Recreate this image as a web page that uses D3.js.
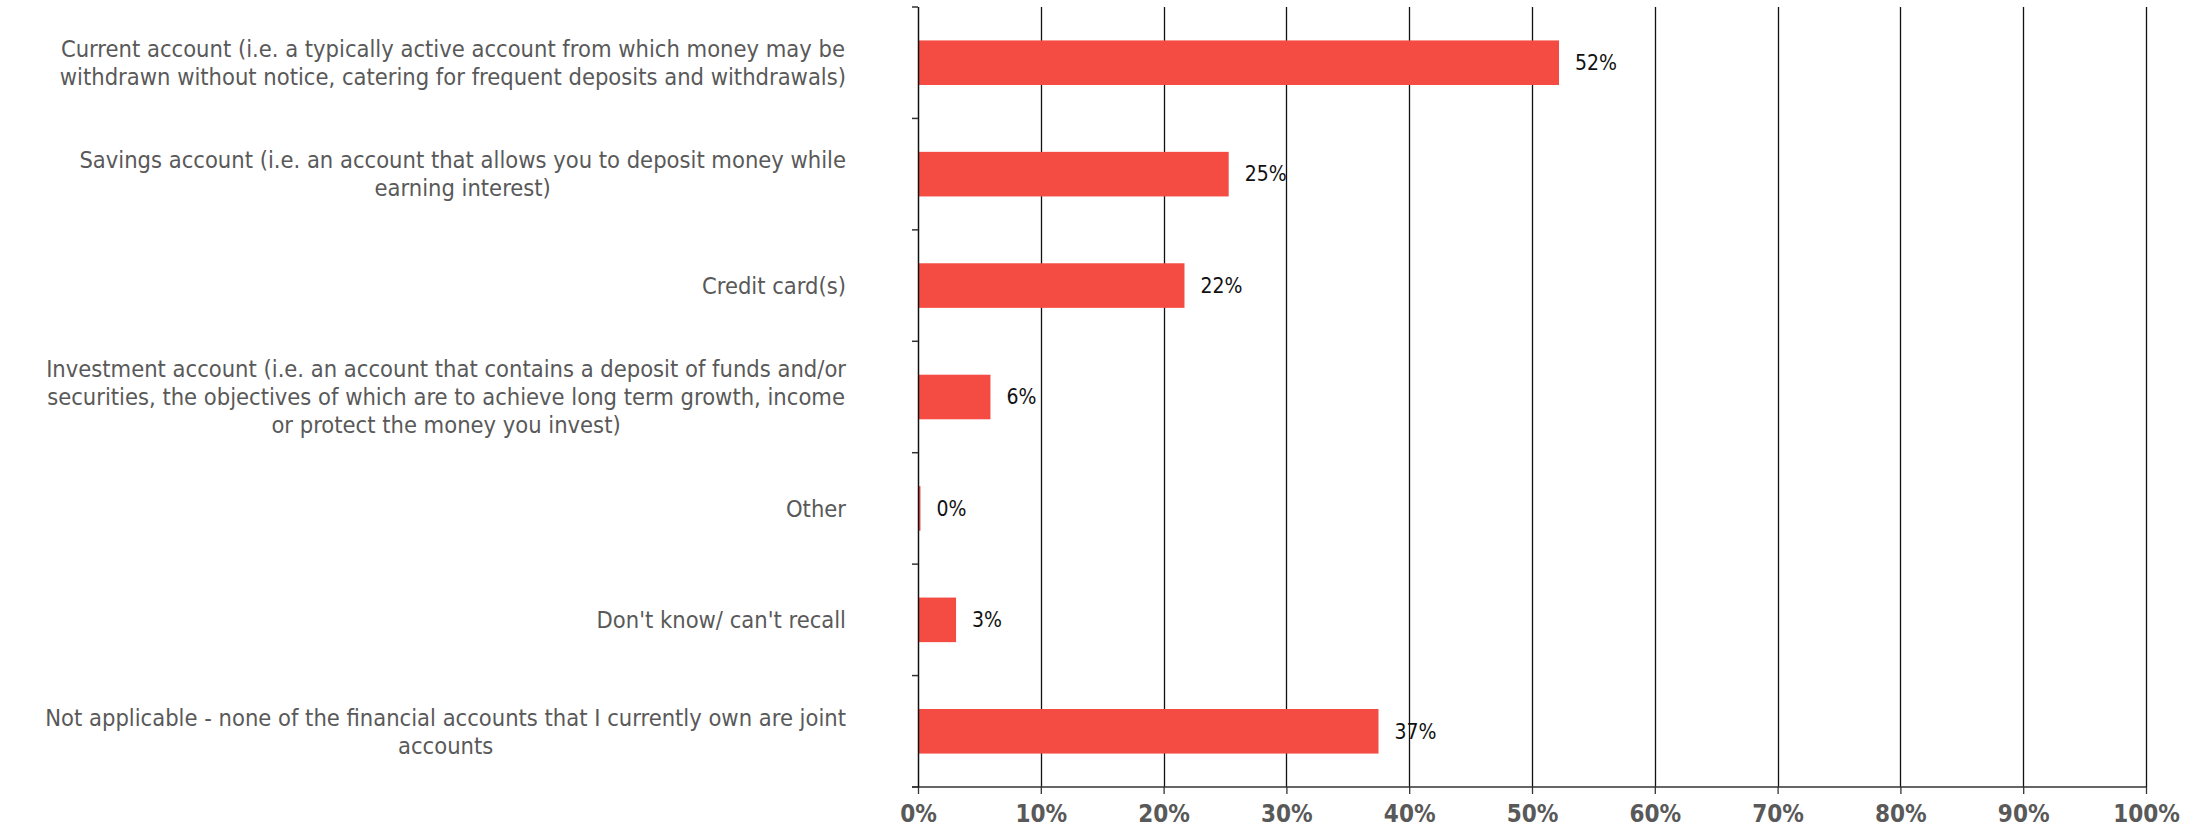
<!DOCTYPE html>
<html>
<head>
<meta charset="utf-8">
<script src="https://cdn.jsdelivr.net/npm/d3@7"></script>
<style>
  body { margin: 0; background: #fff; }
  svg { display: block; }
</style>
</head>
<body>
<div id="chart"></div>
<script>
// categories, already split into the lines shown on the chart
var categories = [
    ["Current account (i.e. a typically active account from which money may be",
     "withdrawn without notice, catering for frequent deposits and withdrawals)"],
    ["Savings account (i.e. an account that allows you to deposit money while",
     "earning interest)"],
    ["Credit card(s)"],
    ["Investment account (i.e. an account that contains a deposit of funds and/or",
     "securities, the objectives of which are to achieve long term growth, income",
     "or protect the money you invest)"],
    ["Other"],
    ["Don't know/ can't recall"],
    ["Not applicable - none of the financial accounts that I currently own are joint",
     "accounts"]
];
var values = [52.2, 25.3, 21.7, 5.9, 0.2, 3.1, 37.5];
var valueLabels = ["52%", "25%", "22%", "6%", "0%", "3%", "37%"];
var ticks = [0, 10, 20, 30, 40, 50, 60, 70, 80, 90, 100];

var width = 2203, height = 829;
var margin = { top: 7, right: 57, bottom: 42, left: 918 };
var font = "'DejaVu Sans Condensed', 'DejaVu Sans', sans-serif";

var svg = d3.select("#chart").append("svg")
    .attr("width", width)
    .attr("height", height);

var x = d3.scaleLinear().domain([0, 100]).range([margin.left, width - margin.right]);
var y = d3.scaleBand().domain(d3.range(categories.length))
    .range([margin.top, height - margin.bottom])
    .paddingInner(0.6).paddingOuter(0.3);

// vertical grid lines
svg.append("g").selectAll("line")
    .data(ticks.slice(1))
    .enter().append("line")
    .attr("x1", function (d) { return Math.round(x(d)) + 0.5; })
    .attr("x2", function (d) { return Math.round(x(d)) + 0.5; })
    .attr("y1", margin.top)
    .attr("y2", height - margin.bottom)
    .attr("stroke", "#111")
    .attr("stroke-width", 1.3);

// bars
svg.append("g").selectAll("rect")
    .data(values)
    .enter().append("rect")
    .attr("x", x(0))
    .attr("y", function (d, i) { return y(i); })
    .attr("width", function (d) { return x(d) - x(0); })
    .attr("height", y.bandwidth())
    .attr("fill", "#f44b42");

// value labels
svg.append("g").selectAll("text")
    .data(values)
    .enter().append("text")
    .attr("x", function (d) { return x(d) + 16; })
    .attr("y", function (d, i) { return y(i) + y.bandwidth() / 2; })
    .attr("dy", "0.35em")
    .attr("font-family", font)
    .attr("font-size", 21)
    .attr("fill", "#111")
    .text(function (d, i) { return valueLabels[i]; });

// x axis
var xAxis = d3.axisBottom(x)
    .tickValues(ticks)
    .tickFormat(function (d) { return d + "%"; })
    .tickSize(7)
    .tickSizeOuter(0);
var gx = svg.append("g")
    .attr("transform", "translate(0," + (height - margin.bottom) + ")")
    .call(xAxis);
gx.select(".domain").attr("stroke", "#333").attr("stroke-width", 1.5)
    .attr("d", "M" + (x(0) - 6) + ",0H" + x(100));
gx.selectAll(".tick line").attr("stroke", "#333").attr("stroke-width", 1.3);
gx.selectAll(".tick text")
    .attr("y", 18)
    .attr("dy", "0.71em")
    .attr("font-family", font)
    .attr("font-size", 24)
    .attr("font-weight", "bold")
    .attr("fill", "#595959");

// y axis line with ticks on band edges
var band = (height - margin.bottom - margin.top) / categories.length;
svg.append("line")
    .attr("x1", x(0) + 0.5).attr("x2", x(0) + 0.5)
    .attr("y1", margin.top).attr("y2", height - margin.bottom)
    .attr("stroke", "#111").attr("stroke-width", 1.5);
svg.append("g").selectAll("line")
    .data(d3.range(categories.length + 1))
    .enter().append("line")
    .attr("x1", x(0) - 6).attr("x2", x(0))
    .attr("y1", function (d) { return margin.top + d * band; })
    .attr("y2", function (d) { return margin.top + d * band; })
    .attr("stroke", "#333").attr("stroke-width", 1.5);

// category labels: block right aligned, lines centred inside the block
var labelRight = x(0) - 72;
var lineH = 28;
categories.forEach(function (lines, i) {
    var g = svg.append("g");
    var cy = y(i) + y.bandwidth() / 2;
    var texts = g.selectAll("text").data(lines).enter().append("text")
        .attr("y", function (d, j) { return cy + (j - (lines.length - 1) / 2) * lineH; })
        .attr("dy", "0.35em")
        .attr("text-anchor", "middle")
        .attr("font-family", font)
        .attr("font-size", 23.5)
        .attr("fill", "#595959")
        .text(function (d) { return d; });
    var maxW = d3.max(texts.nodes(), function (n) { return n.getComputedTextLength(); });
    texts.attr("x", labelRight - maxW / 2);
});
</script>
</body>
</html>
